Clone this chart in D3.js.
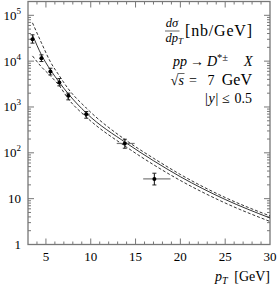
<!DOCTYPE html>
<html><head><meta charset="utf-8">
<script src="https://cdn.jsdelivr.net/npm/d3@7"></script>
<style>
html,body{margin:0;padding:0;background:#fff;}
svg text{font-family:"Liberation Serif","DejaVu Serif",serif;fill:#000;}
</style></head>
<body><svg id="c" width="280" height="284"></svg>
<script>
// ---- data ----
const curvePt      = [3.5, 4.5, 5.5, 6.5, 7.5, 9.5, 14, 17, 20, 25, 30];
const curveCentral = [37500, 13700, 6460, 3440, 1930, 739, 162, 67.3, 30.1, 9.6, 3.79];
const curveUpper   = [68600, 25000, 9660, 4780, 2480, 950, 184, 76.3, 33.7, 10.6, 4.19];
const curveLower   = [13000, 7500, 4780, 2890, 1500, 604, 133, 55.1, 24.9, 8.04, 3.18];

const dataPt    = [3.5, 4.5, 5.5, 6.5, 7.5, 9.5, 13.8, 17.1];
const dataPtLo  = [3.3, 4.3, 5.3, 6.3, 7.3, 9.1, 12.9, 15.85];
const dataPtHi  = [3.7, 4.7, 5.7, 6.7, 7.7, 9.9, 14.9, 18.9];
const dataVal   = [30200, 11600, 5930, 3400, 1750, 697, 160, 27];
const dataLo    = [24700, 9800, 5000, 2890, 1430, 569, 126, 19.9];
const dataHi    = [37500, 13700, 7000, 4170, 2000, 795, 198, 35.9];

const xTicksMajor = [5, 10, 15, 20, 25, 30];
const yTickLabels = [[1,"1",""],[10,"10",""],[100,"10","2"],[1000,"10","3"],[10000,"10","4"],[100000,"10","5"]];

// ---- layout ----
const L = 28, R = 270, T = 1.5, B = 244.5;
const svg = d3.select("#c");
const x = d3.scaleLinear().domain([3, 30]).range([L, R]);
const y = d3.scaleLog().domain([1, 2e5]).range([B, T]);
const axisCol = "#777";

// x ticks (bottom and top)
d3.range(4, 30, 1).forEach(v => {
  const len = v % 5 === 0 ? 6 : 3;
  svg.append("line").attr("x1", x(v)).attr("x2", x(v)).attr("y1", B).attr("y2", B - len)
     .attr("stroke", axisCol).attr("stroke-width", 1);
  svg.append("line").attr("x1", x(v)).attr("x2", x(v)).attr("y1", T).attr("y2", T + len)
     .attr("stroke", axisCol).attr("stroke-width", 1);
});
// y ticks (log), left and right
const yt = [];
for (let e = 0; e <= 5; e++) for (let m = 1; m <= 9; m++) { const v = m * Math.pow(10, e); if (v > 1 && v < 2e5) yt.push([v, m === 1]); }
yt.forEach(([v, major]) => {
  const len = major ? 6 : 3;
  svg.append("line").attr("x1", L).attr("x2", L + len).attr("y1", y(v)).attr("y2", y(v))
     .attr("stroke", axisCol).attr("stroke-width", 1);
  svg.append("line").attr("x1", R).attr("x2", R - len).attr("y1", y(v)).attr("y2", y(v))
     .attr("stroke", axisCol).attr("stroke-width", 1);
});
// frame
svg.append("rect").attr("x", L).attr("y", T).attr("width", R - L).attr("height", B - T)
   .attr("fill", "none").attr("stroke", axisCol).attr("stroke-width", 1.3);

// x tick labels
xTicksMajor.forEach(v => {
  svg.append("text").attr("x", x(v)).attr("y", 261).attr("text-anchor", "middle")
     .attr("font-size", 13).text(v);
});
// y tick labels
yTickLabels.forEach(([v, base, sup]) => {
  const t = svg.append("text").attr("x", 21).attr("y", y(v) + 4.5).attr("text-anchor", "end")
     .attr("font-size", 13);
  t.append("tspan").text(base);
  if (sup) t.append("tspan").attr("font-size", 9).attr("dy", -6).text(sup);
});

// curves
const lineGen = d3.line().x(d => x(d[0])).y(d => y(d[1])).curve(d3.curveMonotoneX);
const mk = arr => curvePt.map((p, i) => [p, arr[i]]);
svg.append("path").attr("d", lineGen(mk(curveUpper))).attr("fill", "none").attr("stroke", "#000")
   .attr("stroke-width", 0.8).attr("stroke-dasharray", "3,2");
svg.append("path").attr("d", lineGen(mk(curveCentral))).attr("fill", "none").attr("stroke", "#000")
   .attr("stroke-width", 0.8);
svg.append("path").attr("d", lineGen(mk(curveLower))).attr("fill", "none").attr("stroke", "#000")
   .attr("stroke-width", 0.8).attr("stroke-dasharray", "3,2");

// data points
dataPt.forEach((p, i) => {
  svg.append("line").attr("x1", x(dataPtLo[i])).attr("x2", x(dataPtHi[i]))
     .attr("y1", y(dataVal[i])).attr("y2", y(dataVal[i])).attr("stroke", "#777").attr("stroke-width", 1.2);
  svg.append("line").attr("x1", x(p)).attr("x2", x(p)).attr("y1", y(dataLo[i])).attr("y2", y(dataHi[i]))
     .attr("stroke", "#222").attr("stroke-width", 1.1);
  [dataLo[i], dataHi[i]].forEach(v => {
    svg.append("line").attr("x1", x(p) - 2).attr("x2", x(p) + 2).attr("y1", y(v)).attr("y2", y(v))
       .attr("stroke", "#222").attr("stroke-width", 1);
  });
  svg.append("circle").attr("cx", x(p)).attr("cy", y(dataVal[i])).attr("r", 2).attr("fill", "#000");
});

// annotation
const g = svg.append("g");
const fs = 14;
// fraction d sigma / d p_T
g.append("text").attr("x", 172).attr("y", 27).attr("text-anchor", "middle").attr("font-size", 12.5)
  .attr("font-style", "italic").text("dσ");
g.append("line").attr("x1", 165).attr("x2", 179.5).attr("y1", 31).attr("y2", 31).attr("stroke", "#000").attr("stroke-width", 0.6);
const den = g.append("text").attr("x", 165.5).attr("y", 41.5).attr("font-size", 12.5).attr("font-style", "italic");
den.append("tspan").text("dp");
den.append("tspan").attr("font-size", 9).attr("dy", 2).text("T");
g.append("text").attr("x", 252).attr("y", 35.5).attr("text-anchor", "end").attr("font-size", 16)
  .attr("textLength", 67).attr("lengthAdjust", "spacing").text("[nb/GeV]");

// pp -> D*± X
const yl2 = 66;
g.append("text").attr("x", 173).attr("y", yl2).attr("font-size", fs).attr("font-style", "italic").text("pp");
g.append("text").attr("x", 190).attr("y", yl2).attr("font-size", fs).text("→");
g.append("text").attr("x", 207).attr("y", yl2).attr("font-size", fs).attr("font-style", "italic").text("D");
g.append("text").attr("x", 217).attr("y", yl2 - 5.5).attr("font-size", 10.5).text("*±");
g.append("text").attr("x", 252.5).attr("y", yl2).attr("text-anchor", "end").attr("font-size", fs).attr("font-style", "italic").text("X");

// sqrt(s) = 7 GeV
const yl3 = 84.5;
g.append("text").attr("x", 170.5).attr("y", yl3).attr("font-size", fs).text("√");
g.append("line").attr("x1", 177.5).attr("x2", 184.5).attr("y1", yl3 - 11).attr("y2", yl3 - 11).attr("stroke", "#000").attr("stroke-width", 0.6);
g.append("text").attr("x", 178.5).attr("y", yl3).attr("font-size", fs).attr("font-style", "italic").text("s");
g.append("text").attr("x", 189).attr("y", yl3).attr("font-size", fs).text("=");
g.append("text").attr("x", 207.5).attr("y", yl3).attr("font-size", fs).text("7");
g.append("text").attr("x", 252).attr("y", yl3).attr("text-anchor", "end").attr("font-size", 16).text("GeV");

// |y| <= 0.5
const yl4 = 102.5;
g.append("text").attr("x", 205).attr("y", yl4).attr("font-size", fs).text("|");
g.append("text").attr("x", 208.5).attr("y", yl4).attr("font-size", fs).attr("font-style", "italic").text("y");
g.append("text").attr("x", 215.5).attr("y", yl4).attr("font-size", fs).text("|");
g.append("text").attr("x", 222).attr("y", yl4).attr("font-size", fs).text("≤");
g.append("text").attr("x", 252).attr("y", yl4).attr("text-anchor", "end").attr("font-size", fs).text("0.5");

// x axis title
const yt5 = 281;
g.append("text").attr("x", 215).attr("y", yt5).attr("font-size", fs).attr("font-style", "italic").text("p");
g.append("text").attr("x", 222).attr("y", yt5 + 2.5).attr("font-size", 10).attr("font-style", "italic").text("T");
g.append("text").attr("x", 270).attr("y", yt5).attr("text-anchor", "end").attr("font-size", fs).text("[GeV]");
</script></body></html>
